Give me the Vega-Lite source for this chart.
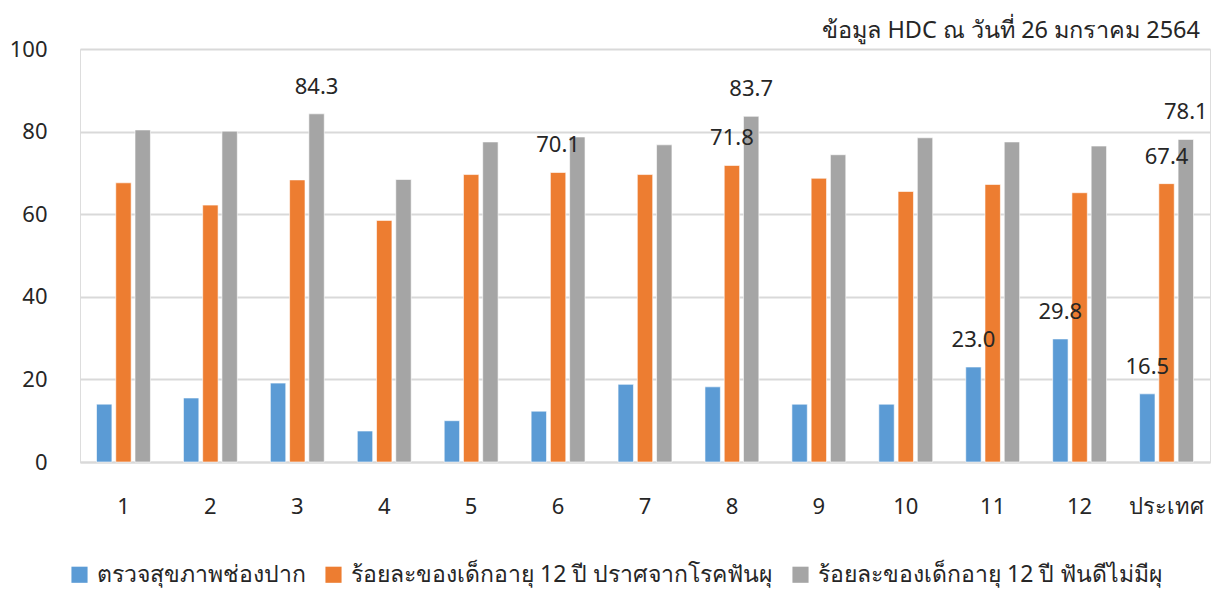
{
  "$schema": "https://vega.github.io/schema/vega-lite/v6.json",
  "width": 1130,
  "height": 413,
  "autosize": {"type": "none"},
  "padding": {"left": 80, "top": 49, "right": 8, "bottom": 128},
  "background": "white",
  "title": {
    "text": "ข้อมูล HDC ณ วันที่ 26 มกราคม 2564",
    "anchor": "end",
    "fontSize": 23.5,
    "fontWeight": "normal",
    "font": "Noto Sans",
    "color": "#262626",
    "offset": -4,
    "dx": -10
  },
  "data": {
    "values": [
      {"area": "1", "series": "ตรวจสุขภาพช่องปาก", "value": 14.0, "labelled": false},
      {"area": "1", "series": "ร้อยละของเด็กอายุ 12 ปี ปราศจากโรคฟันผุ", "value": 67.6, "labelled": false},
      {"area": "1", "series": "ร้อยละของเด็กอายุ 12 ปี ฟันดีไม่มีผุ", "value": 80.4, "labelled": false},
      {"area": "2", "series": "ตรวจสุขภาพช่องปาก", "value": 15.5, "labelled": false},
      {"area": "2", "series": "ร้อยละของเด็กอายุ 12 ปี ปราศจากโรคฟันผุ", "value": 62.2, "labelled": false},
      {"area": "2", "series": "ร้อยละของเด็กอายุ 12 ปี ฟันดีไม่มีผุ", "value": 80.1, "labelled": false},
      {"area": "3", "series": "ตรวจสุขภาพช่องปาก", "value": 19.1, "labelled": false},
      {"area": "3", "series": "ร้อยละของเด็กอายุ 12 ปี ปราศจากโรคฟันผุ", "value": 68.3, "labelled": false},
      {"area": "3", "series": "ร้อยละของเด็กอายุ 12 ปี ฟันดีไม่มีผุ", "value": 84.3, "labelled": true},
      {"area": "4", "series": "ตรวจสุขภาพช่องปาก", "value": 7.5, "labelled": false},
      {"area": "4", "series": "ร้อยละของเด็กอายุ 12 ปี ปราศจากโรคฟันผุ", "value": 58.5, "labelled": false},
      {"area": "4", "series": "ร้อยละของเด็กอายุ 12 ปี ฟันดีไม่มีผุ", "value": 68.4, "labelled": false},
      {"area": "5", "series": "ตรวจสุขภาพช่องปาก", "value": 10.0, "labelled": false},
      {"area": "5", "series": "ร้อยละของเด็กอายุ 12 ปี ปราศจากโรคฟันผุ", "value": 69.6, "labelled": false},
      {"area": "5", "series": "ร้อยละของเด็กอายุ 12 ปี ฟันดีไม่มีผุ", "value": 77.5, "labelled": false},
      {"area": "6", "series": "ตรวจสุขภาพช่องปาก", "value": 12.3, "labelled": false},
      {"area": "6", "series": "ร้อยละของเด็กอายุ 12 ปี ปราศจากโรคฟันผุ", "value": 70.1, "labelled": true},
      {"area": "6", "series": "ร้อยละของเด็กอายุ 12 ปี ฟันดีไม่มีผุ", "value": 78.7, "labelled": false},
      {"area": "7", "series": "ตรวจสุขภาพช่องปาก", "value": 18.8, "labelled": false},
      {"area": "7", "series": "ร้อยละของเด็กอายุ 12 ปี ปราศจากโรคฟันผุ", "value": 69.6, "labelled": false},
      {"area": "7", "series": "ร้อยละของเด็กอายุ 12 ปี ฟันดีไม่มีผุ", "value": 76.8, "labelled": false},
      {"area": "8", "series": "ตรวจสุขภาพช่องปาก", "value": 18.2, "labelled": false},
      {"area": "8", "series": "ร้อยละของเด็กอายุ 12 ปี ปราศจากโรคฟันผุ", "value": 71.8, "labelled": true},
      {"area": "8", "series": "ร้อยละของเด็กอายุ 12 ปี ฟันดีไม่มีผุ", "value": 83.7, "labelled": true},
      {"area": "9", "series": "ตรวจสุขภาพช่องปาก", "value": 14.0, "labelled": false},
      {"area": "9", "series": "ร้อยละของเด็กอายุ 12 ปี ปราศจากโรคฟันผุ", "value": 68.7, "labelled": false},
      {"area": "9", "series": "ร้อยละของเด็กอายุ 12 ปี ฟันดีไม่มีผุ", "value": 74.4, "labelled": false},
      {"area": "10", "series": "ตรวจสุขภาพช่องปาก", "value": 14.0, "labelled": false},
      {"area": "10", "series": "ร้อยละของเด็กอายุ 12 ปี ปราศจากโรคฟันผุ", "value": 65.5, "labelled": false},
      {"area": "10", "series": "ร้อยละของเด็กอายุ 12 ปี ฟันดีไม่มีผุ", "value": 78.5, "labelled": false},
      {"area": "11", "series": "ตรวจสุขภาพช่องปาก", "value": 23.0, "labelled": true},
      {"area": "11", "series": "ร้อยละของเด็กอายุ 12 ปี ปราศจากโรคฟันผุ", "value": 67.2, "labelled": false},
      {"area": "11", "series": "ร้อยละของเด็กอายุ 12 ปี ฟันดีไม่มีผุ", "value": 77.5, "labelled": false},
      {"area": "12", "series": "ตรวจสุขภาพช่องปาก", "value": 29.8, "labelled": true},
      {"area": "12", "series": "ร้อยละของเด็กอายุ 12 ปี ปราศจากโรคฟันผุ", "value": 65.2, "labelled": false},
      {"area": "12", "series": "ร้อยละของเด็กอายุ 12 ปี ฟันดีไม่มีผุ", "value": 76.5, "labelled": false},
      {"area": "ประเทศ", "series": "ตรวจสุขภาพช่องปาก", "value": 16.5, "labelled": true},
      {"area": "ประเทศ", "series": "ร้อยละของเด็กอายุ 12 ปี ปราศจากโรคฟันผุ", "value": 67.4, "labelled": true},
      {"area": "ประเทศ", "series": "ร้อยละของเด็กอายุ 12 ปี ฟันดีไม่มีผุ", "value": 78.1, "labelled": true}
    ]
  },
  "encoding": {
    "x": {
      "field": "area",
      "type": "nominal",
      "sort": null,
      "scale": {"paddingInner": 0.38, "paddingOuter": 0.19},
      "axis": {
        "title": null,
        "labelAngle": 0,
        "labelFontSize": 22,
        "labelFont": "Noto Sans",
        "labelColor": "#262626",
        "labelPadding": 34,
        "ticks": false,
        "domainColor": "#d9d9d9",
        "domainWidth": 2
      }
    },
    "xOffset": {
      "field": "series",
      "type": "nominal",
      "sort": null,
      "scale": {"paddingInner": 0.2}
    },
    "y": {
      "field": "value",
      "type": "quantitative",
      "scale": {"domain": [0, 100]},
      "axis": {
        "title": null,
        "values": [0, 20, 40, 60, 80, 100],
        "labelFontSize": 22,
        "labelFont": "Noto Sans",
        "labelColor": "#262626",
        "labelPadding": 33,
        "ticks": false,
        "domain": false,
        "gridColor": "#d9d9d9",
        "gridWidth": 2
      }
    }
  },
  "layer": [
    {
      "mark": {"type": "bar", "stroke": "white", "strokeWidth": 1, "strokeOpacity": 0.6},
      "encoding": {
        "color": {
          "field": "series",
          "type": "nominal",
          "sort": null,
          "scale": {"range": ["#5b9bd5", "#ed7d31", "#a5a5a5"]},
          "legend": {
            "title": null,
            "orient": "none",
            "direction": "horizontal",
            "legendX": -12,
            "legendY": 514,
            "symbolType": "square",
            "symbolSize": 260,
            "symbolStrokeWidth": 0,
            "labelFontSize": 23,
            "labelFont": "Noto Sans",
            "labelColor": "#262626",
            "labelLimit": 500,
            "columnPadding": 16,
            "labelOffset": 6
          }
        }
      }
    },
    {
      "transform": [{"filter": "datum.labelled"}],
      "mark": {
        "type": "text",
        "baseline": "alphabetic",
        "dy": -20,
        "fontSize": 22,
        "font": "Noto Sans",
        "color": "#262626"
      },
      "encoding": {
        "text": {"field": "value", "type": "quantitative", "format": ".1f"}
      }
    }
  ]
}
